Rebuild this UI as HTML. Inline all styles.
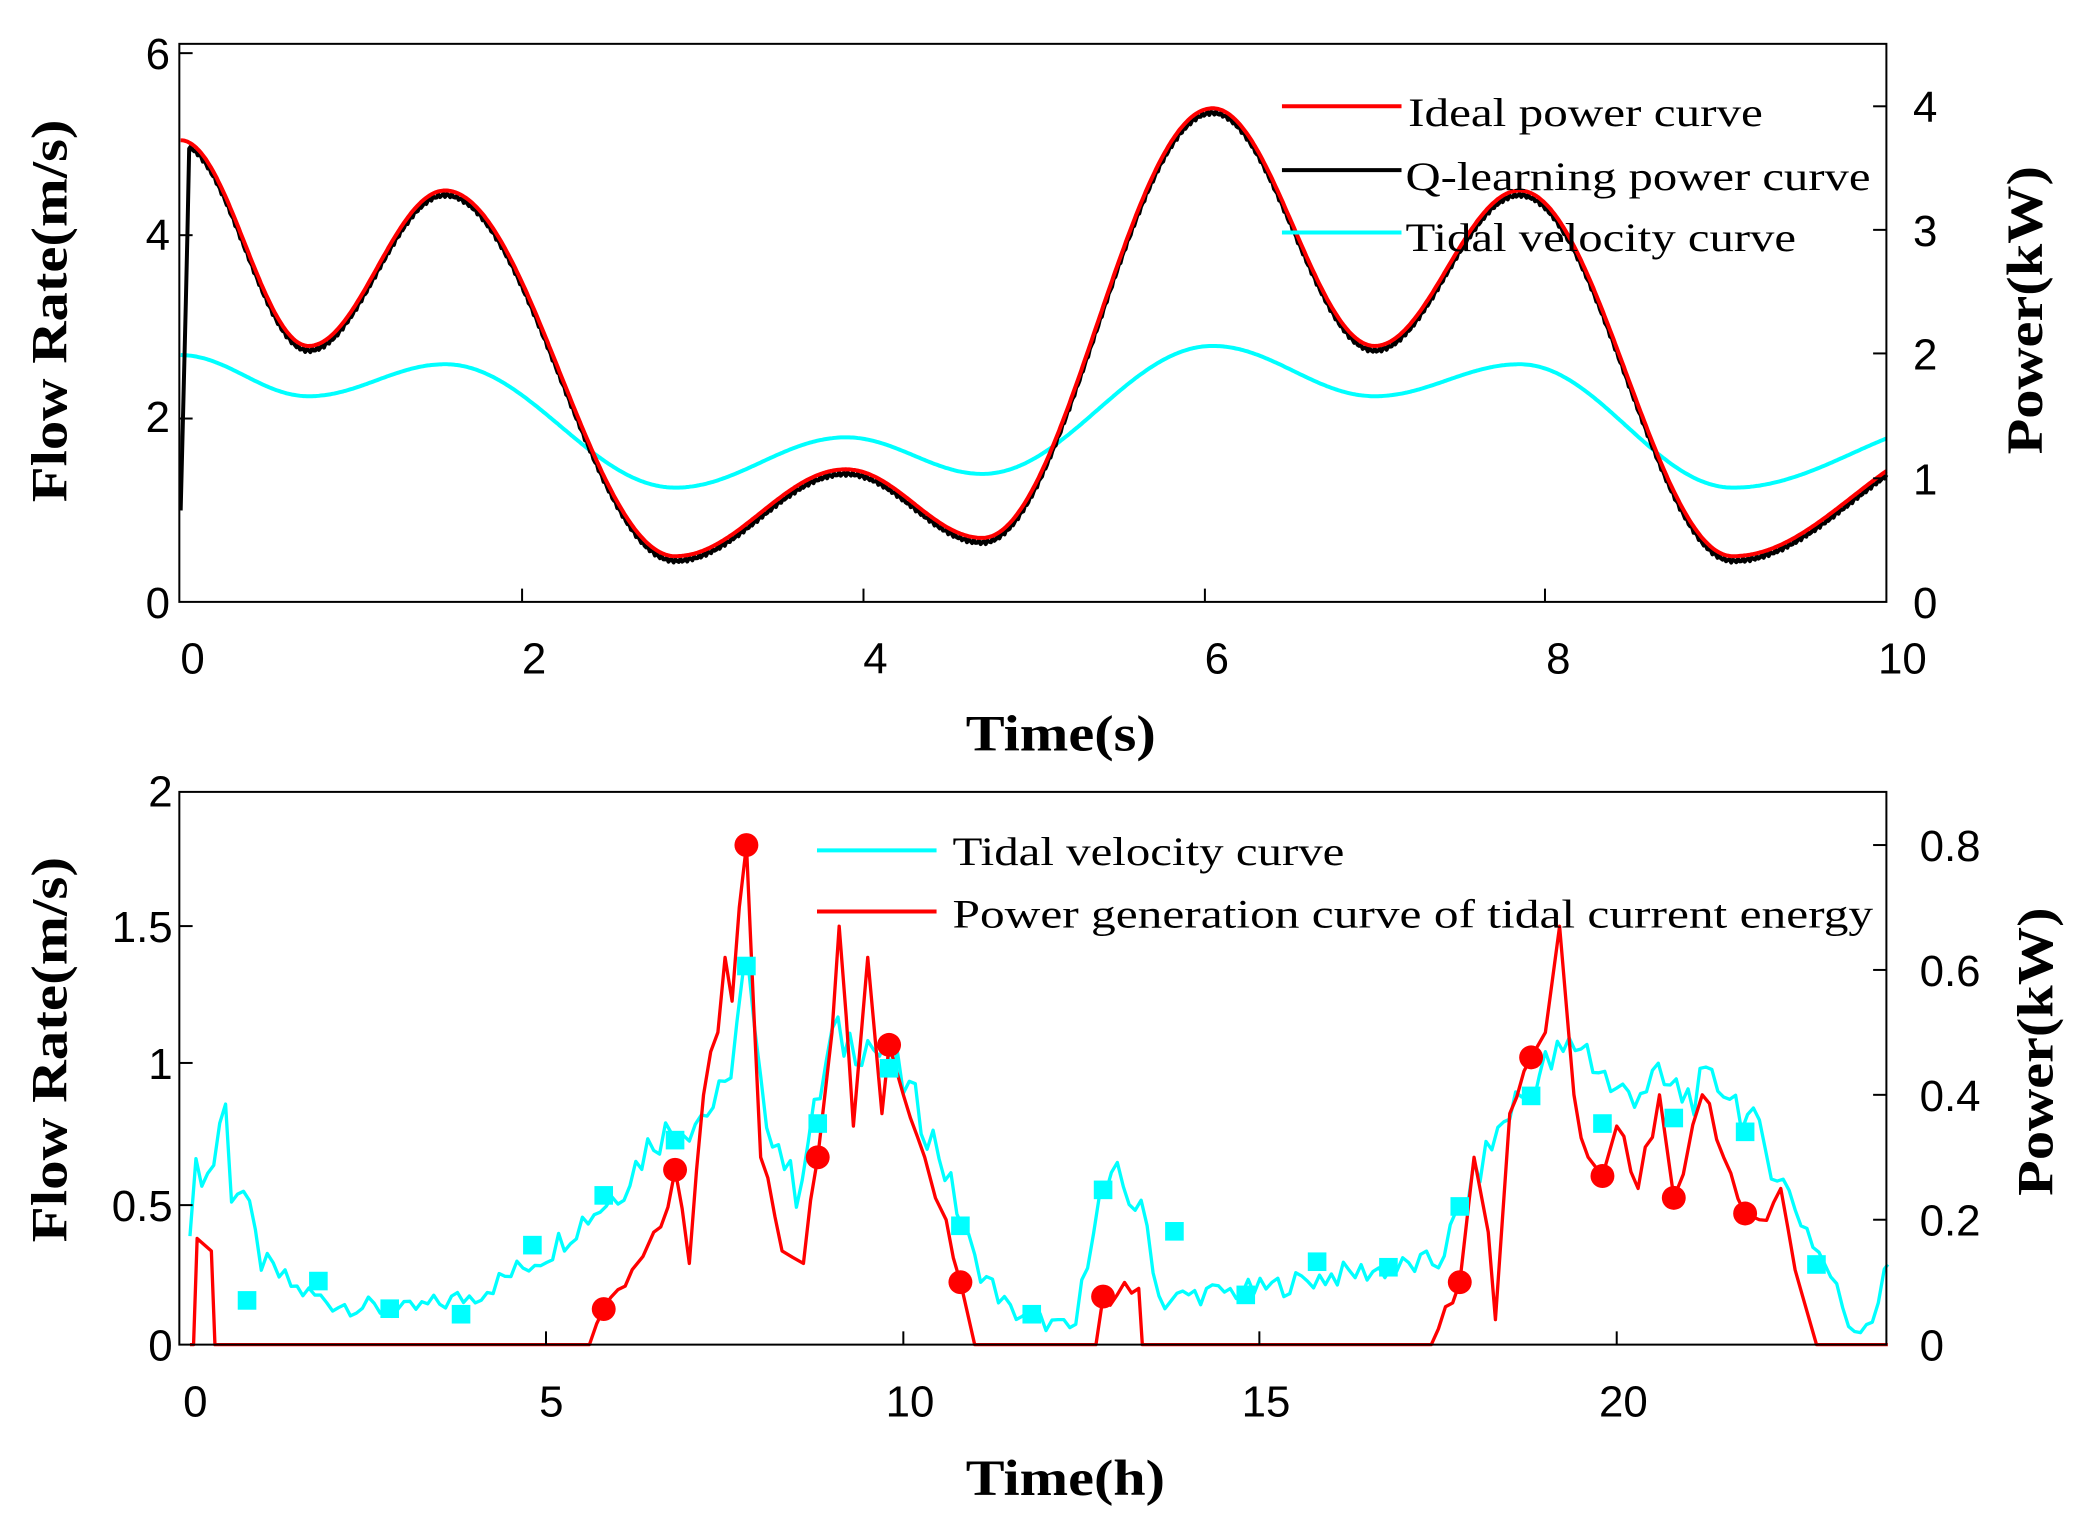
<!DOCTYPE html>
<html><head><meta charset="utf-8"><style>
html,body{margin:0;padding:0;background:#fff;}
svg{display:block;}
.t{font-family:"Liberation Sans",Arial,sans-serif;font-size:33px;fill:#000;}
.l{font-family:"Liberation Serif","Times New Roman",serif;font-size:30px;fill:#000;}
.a{font-family:"Liberation Serif","Times New Roman",serif;font-size:38px;font-weight:bold;fill:#000;}
</style></head><body>
<svg id="s" width="2083" height="1524" viewBox="0 0 1568 1147" preserveAspectRatio="none" xmlns="http://www.w3.org/2000/svg">
<rect width="1568" height="1147" fill="#fff"/>
<g id="gtop"></g>
<g id="gbot"></g>
<rect x="135" y="33" width="1285" height="420" fill="none" stroke="#000" stroke-width="1.5"/>
<g stroke="#000" stroke-width="1.5">
<line x1="135" y1="40" x2="145" y2="40"/><line x1="135" y1="177" x2="145" y2="177"/><line x1="135" y1="315" x2="145" y2="315"/>
<line x1="1420" y1="80" x2="1410" y2="80"/><line x1="1420" y1="173" x2="1410" y2="173"/><line x1="1420" y1="266" x2="1410" y2="266"/><line x1="1420" y1="360" x2="1410" y2="360"/>
<line x1="393" y1="453" x2="393" y2="443"/><line x1="650" y1="453" x2="650" y2="443"/><line x1="907" y1="453" x2="907" y2="443"/><line x1="1163" y1="453" x2="1163" y2="443"/>
</g>
<g class="t" text-anchor="end">
<text x="128" y="52">6</text><text x="128" y="188">4</text><text x="128" y="325">2</text><text x="128" y="465">0</text>
</g>
<g class="t">
<text x="1440" y="92">4</text><text x="1440" y="185">3</text><text x="1440" y="278">2</text><text x="1440" y="372">1</text><text x="1440" y="465">0</text>
</g>
<g class="t" text-anchor="middle">
<text x="145" y="507">0</text><text x="402" y="507">2</text><text x="659" y="507">4</text><text x="916" y="507">6</text><text x="1173" y="507">8</text><text x="1432" y="507">10</text>
</g>
<text class="a" x="727" y="565" textLength="143" lengthAdjust="spacingAndGlyphs">Time(s)</text>
<text class="a" transform="translate(50,378) rotate(-90)" textLength="288" lengthAdjust="spacingAndGlyphs">Flow Rate(m/s)</text>
<text class="a" transform="translate(1537,342) rotate(-90)" textLength="217" lengthAdjust="spacingAndGlyphs">Power(kW)</text>
<line x1="965" y1="80" x2="1055" y2="80" stroke="#f00" stroke-width="3"/>
<line x1="965" y1="128" x2="1055" y2="128" stroke="#000" stroke-width="3"/>
<line x1="965" y1="175" x2="1055" y2="175" stroke="#0ff" stroke-width="3"/>
<text class="l" x="1060" y="95" textLength="267" lengthAdjust="spacingAndGlyphs">Ideal power curve</text>
<text class="l" x="1058" y="143" textLength="350" lengthAdjust="spacingAndGlyphs">Q-learning power curve</text>
<text class="l" x="1058" y="189" textLength="294" lengthAdjust="spacingAndGlyphs">Tidal velocity curve</text>

<rect x="135" y="596" width="1285" height="416" fill="none" stroke="#000" stroke-width="1.5"/>
<g stroke="#000" stroke-width="1.5">
<line x1="135" y1="697" x2="145" y2="697"/><line x1="135" y1="800" x2="145" y2="800"/><line x1="135" y1="907" x2="145" y2="907"/>
<line x1="1420" y1="636" x2="1410" y2="636"/><line x1="1420" y1="730" x2="1410" y2="730"/><line x1="1420" y1="824" x2="1410" y2="824"/><line x1="1420" y1="918" x2="1410" y2="918"/>
<line x1="411" y1="1012" x2="411" y2="1002"/><line x1="680" y1="1012" x2="680" y2="1002"/><line x1="948" y1="1012" x2="948" y2="1002"/><line x1="1217" y1="1012" x2="1217" y2="1002"/>
</g>
<g class="t" text-anchor="end">
<text x="130" y="607">2</text><text x="130" y="709">1.5</text><text x="130" y="812">1</text><text x="130" y="919">0.5</text><text x="130" y="1024">0</text>
</g>
<g class="t">
<text x="1445" y="648">0.8</text><text x="1445" y="742">0.6</text><text x="1445" y="836">0.4</text><text x="1445" y="930">0.2</text><text x="1445" y="1024">0</text>
</g>
<g class="t" text-anchor="middle">
<text x="147" y="1066">0</text><text x="415" y="1066">5</text><text x="685" y="1066">10</text><text x="953" y="1066">15</text><text x="1222" y="1066">20</text>
</g>
<text class="a" x="727" y="1125" textLength="150" lengthAdjust="spacingAndGlyphs">Time(h)</text>
<text class="a" transform="translate(50,935) rotate(-90)" textLength="290" lengthAdjust="spacingAndGlyphs">Flow Rate(m/s)</text>
<text class="a" transform="translate(1545,900) rotate(-90)" textLength="217" lengthAdjust="spacingAndGlyphs">Power(kW)</text>
<line x1="615" y1="640" x2="705" y2="640" stroke="#0ff" stroke-width="3"/>
<line x1="615" y1="686" x2="705" y2="686" stroke="#f00" stroke-width="3"/>
<text class="l" x="717" y="651" textLength="295" lengthAdjust="spacingAndGlyphs">Tidal velocity curve</text>
<text class="l" x="717" y="698" textLength="693" lengthAdjust="spacingAndGlyphs">Power generation curve of tidal current energy</text>
</svg>
<script>
(function(){
var NS="http://www.w3.org/2000/svg";
function cosInterp(pts,x){for(var i=0;i<pts.length-1;i++){var a=pts[i],b=pts[i+1];if(x>=a[0]&&x<=b[0]){var t=(x-a[0])/(b[0]-a[0]);var m=(1-Math.cos(Math.PI*t))/2;return a[1]+(b[1]-a[1])*m;}}return pts[pts.length-1][1];}
function linInterp(pts,x){for(var i=0;i<pts.length-1;i++){var a=pts[i],b=pts[i+1];if(x>=a[0]&&x<=b[0]){var t=(x-a[0])/(b[0]-a[0]);return a[1]+(b[1]-a[1])*t;}}return pts[pts.length-1][1];}
function path(g,d,c,w){var p=document.createElementNS(NS,"path");p.setAttribute("d",d);p.setAttribute("fill","none");p.setAttribute("stroke",c);p.setAttribute("stroke-width",w);p.setAttribute("stroke-linejoin","round");g.appendChild(p);}
var gt=document.getElementById("gtop");
var X0=136,XS=128.4,Y0=453,YS=68.8;
var red=[[0,5.05],[0.75,2.8],[1.55,4.5],[2.9,0.5],[3.9,1.45],[4.7,0.7],[6.05,5.4],[7.0,2.8],[7.85,4.5],[9.1,0.5],[10.5,1.8]];
var cy=[[0,2.7],[0.75,2.25],[1.55,2.6],[2.9,1.25],[3.9,1.8],[4.7,1.4],[6.05,2.8],[7.0,2.25],[7.85,2.6],[9.1,1.25],[10.5,2.0]];
var dc="",dr="",dk="";
for(var i=0;i<=1000;i++){var x=i/100;var px=X0+x*XS;
dc+=(i?"L":"M")+px.toFixed(1)+","+(Y0-cosInterp(cy,x)*YS).toFixed(1);
var r=cosInterp(red,x);dr+=(i?"L":"M")+px.toFixed(1)+","+(Y0-r*YS).toFixed(1);
var k=r-0.05+0.02*Math.sin(i*2.3);if(x<0.05){k=1.0+(4.8-1.0)*(x/0.05);}
dk+=(i?"L":"M")+px.toFixed(1)+","+(Y0-k*YS).toFixed(1);}
path(gt,dc,"#0ff",3);path(gt,dk,"#000",3);path(gt,dr,"#f00",3);
var gb=document.getElementById("gbot");
var BX0=143,BXS=53.7,BY0=1012,BYS=208,PYS=470;
var cb=[[0,0.45],[0.1,0.65],[0.3,0.6],[0.4,0.8],[0.5,0.85],[0.6,0.5],[0.7,0.6],[1,0.3],[1.5,0.2],[2,0.15],[3,0.12],[4,0.18],[5,0.33],[5.5,0.45],[6,0.55],[6.5,0.75],[7,0.8],[7.5,0.9],[7.8,1.37],[8.0,0.9],[8.5,0.55],[9,1.1],[9.5,1.1],[10,0.95],[10.5,0.7],[11,0.3],[11.5,0.12],[12,0.08],[12.4,0.05],[12.7,0.5],[13,0.6],[13.4,0.45],[13.6,0.15],[14,0.18],[15,0.2],[16,0.25],[17,0.28],[17.5,0.3],[18,0.6],[18.5,0.85],[19,1.0],[19.5,1.1],[20,0.9],[20.5,0.95],[21,0.9],[21.5,0.95],[22,0.75],[22.5,0.5],[23,0.25],[23.3,0.05],[23.6,0.1],[23.9,0.38]];
var rb=[[0,0],[0.05,0],[0.1,0.17],[0.3,0.15],[0.35,0],[5.6,0],[5.8,0.057],[6.2,0.12],[6.5,0.18],[6.7,0.22],[6.8,0.28],[7,0.13],[7.2,0.4],[7.4,0.5],[7.5,0.62],[7.6,0.55],[7.7,0.7],[7.8,0.8],[8.0,0.3],[8.3,0.15],[8.6,0.13],[8.8,0.3],[9.0,0.5],[9.1,0.67],[9.3,0.35],[9.5,0.62],[9.7,0.37],[9.8,0.48],[10,0.4],[10.3,0.3],[10.6,0.2],[10.8,0.1],[11,0],[12.7,0],[12.8,0.077],[13.3,0.09],[13.35,0],[17.4,0],[17.8,0.1],[18.0,0.3],[18.2,0.18],[18.3,0.04],[18.5,0.37],[18.8,0.46],[19.0,0.5],[19.2,0.67],[19.4,0.4],[19.6,0.3],[19.8,0.27],[20,0.35],[20.3,0.25],[20.6,0.4],[20.8,0.235],[21.2,0.4],[21.5,0.3],[21.8,0.21],[22,0.2],[22.3,0.25],[22.6,0.08],[22.8,0],[23.8,0]];
function nz(i){var s=Math.sin(i*12.9898)*43758.5453;return s-Math.floor(s)-0.5;}
var d1="",N=Math.round(23.8*12);
for(var i=0;i<=N;i++){var h=i/12;if(h>23.8)h=23.8;var px=BX0+h*BXS;
var v=linInterp(cb,h)+nz(i)*0.12*(0.5+linInterp(cb,h));if(v<0.02)v=0.02;
d1+=(i?"L":"M")+px.toFixed(1)+","+(BY0-v*BYS).toFixed(1);}
// red: pass through all control points, jitter in between
var d2="",c=0;
for(var j=0;j<rb.length;j++){
 var a=rb[j];d2+=(j?"L":"M")+(BX0+a[0]*BXS).toFixed(1)+","+(BY0-a[1]*PYS).toFixed(1);
 if(j<rb.length-1){var b=rb[j+1];if((a[1]>0||b[1]>0)&&b[0]-a[0]>0.15){var n=Math.floor((b[0]-a[0])/0.1);
  for(var k=1;k<n;k++){var h=a[0]+(b[0]-a[0])*k/n;var p=a[1]+(b[1]-a[1])*k/n+nz(c++ +500)*0.04;if(p<0)p=0;
  d2+="L"+(BX0+h*BXS).toFixed(1)+","+(BY0-p*PYS).toFixed(1);}}}
}
path(gb,d1,"#0ff",2.5);path(gb,d2,"#f00",2.5);
var sq=[[0.8,0.16],[1.8,0.23],[2.8,0.13],[3.8,0.11],[4.8,0.36],[5.8,0.54],[6.8,0.74],[7.8,1.37],[8.8,0.8],[9.8,1.0],[10.8,0.43],[11.8,0.11],[12.8,0.56],[13.8,0.41],[14.8,0.18],[15.8,0.3],[16.8,0.28],[17.8,0.5],[18.8,0.9],[19.8,0.8],[20.8,0.82],[21.8,0.77],[22.8,0.29]];
sq.forEach(function(q){var r=document.createElementNS(NS,"rect");r.setAttribute("x",BX0+q[0]*BXS-7);r.setAttribute("y",BY0-q[1]*BYS-7);r.setAttribute("width",14);r.setAttribute("height",14);r.setAttribute("fill","#0ff");gb.appendChild(r);});
var ci=[[5.8,0.057],[6.8,0.28],[7.8,0.80],[8.8,0.30],[9.8,0.48],[10.8,0.10],[12.8,0.077],[17.8,0.1],[18.8,0.46],[19.8,0.27],[20.8,0.235],[21.8,0.21]];
ci.forEach(function(q){var c=document.createElementNS(NS,"circle");c.setAttribute("cx",BX0+q[0]*BXS);c.setAttribute("cy",BY0-q[1]*PYS);c.setAttribute("r",9);c.setAttribute("fill","#f00");gb.appendChild(c);});
})();
</script>
</body></html>
